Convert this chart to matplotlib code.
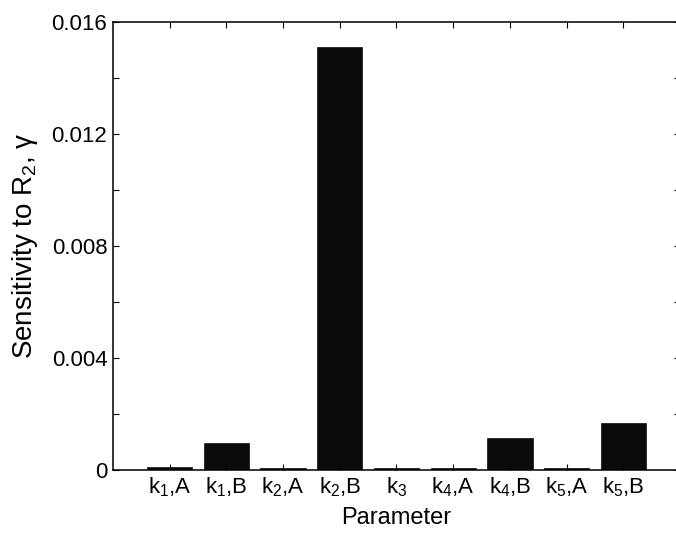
import matplotlib
matplotlib.use("Agg")
import matplotlib.pyplot as plt

plt.rcParams['font.family'] = ['Liberation Sans', 'DejaVu Sans']
plt.rcParams['mathtext.default'] = 'regular'

# sensitivity of R2 to each rate parameter
params = ['k$_1$,A', 'k$_1$,B', 'k$_2$,A', 'k$_2$,B', 'k$_3$',
          'k$_4$,A', 'k$_4$,B', 'k$_5$,A', 'k$_5$,B']
sensitivity = [0.00011, 0.00095, 0.00007, 0.0151, 0.00007,
               0.00007, 0.00113, 0.00007, 0.00166]
ytick_labels = ['0', '', '0.004', '', '0.008', '', '0.012', '', '0.016']

fig = plt.figure(figsize=(6.76, 5.42), dpi=100)
ax = fig.add_axes([0.167, 0.133, 0.839, 0.826])

pos = range(1, len(params) + 1)
ax.bar(pos, sensitivity, width=0.8, color='#0b0b0b', edgecolor='#0b0b0b', linewidth=0.5)

ax.set_xlim(0, 10)
ax.set_ylim(0, 0.016)
ax.set_xticks(list(pos))
ax.set_xticklabels(params, fontsize=16)
ax.set_yticks([i * 0.002 for i in range(9)])
ax.set_yticklabels(ytick_labels, fontsize=16)

ax.tick_params(direction='in', top=True, right=True, length=4, width=0.8, pad=4)
ax.tick_params(axis='x', pad=4)
for s in ax.spines.values():
    s.set_linewidth(1.1)

ax.set_xlabel('Parameter', fontsize=17, labelpad=6)
ax.set_ylabel(r'Sensitivity to R$_2$, $\gamma$', fontsize=20, labelpad=8)

fig.savefig('out.png', dpi=100)
